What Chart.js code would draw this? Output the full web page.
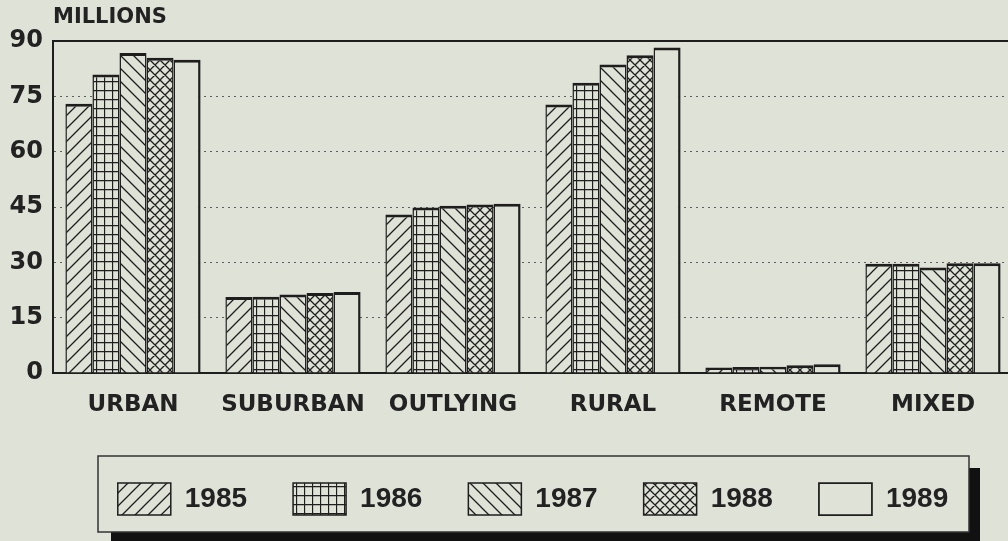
<!DOCTYPE html>
<html>
<head>
<meta charset="utf-8">
<script src="https://cdn.jsdelivr.net/npm/chart.js@4.4.0/dist/chart.umd.min.js"></script>
<style>
    html, body { margin: 0; padding: 0; background: #dfe2d7; overflow: hidden; }
    #wrap { position: relative; width: 1014px; height: 541px; }
</style>
</head>
<body>
<div id="wrap"><canvas id="chart"></canvas></div>
<script>
// ===== DATA =====
const categories = ['URBAN', 'SUBURBAN', 'OUTLYING', 'RURAL', 'REMOTE', 'MIXED'];
const years = ['1985', '1986', '1987', '1988', '1989'];
const values1985 = [73.0, 20.6, 43.0, 72.8, 1.5, 29.6];
const values1986 = [81.0, 20.7, 44.9, 78.7, 1.6, 29.6];
const values1987 = [86.8, 21.3, 45.4, 83.7, 1.7, 28.6];
const values1988 = [85.5, 21.7, 45.7, 86.2, 2.1, 29.8];
const values1989 = [85.0, 22.0, 45.9, 88.3, 2.4, 29.8];
const yTicks = [0, 15, 30, 45, 60, 75, 90];

const BG = '#dfe2d7';
const INK = '#1e1e1e';

// hatch fills like the old plotter patterns
function makePattern(kind) {
    const w = kind === 'grid' ? 8 : (kind === 'cross' ? 10 : 13);
    const h = kind === 'grid' ? 9 : w;
    const c = document.createElement('canvas');
    c.width = w; c.height = h;
    const g = c.getContext('2d');
    g.fillStyle = BG;
    g.fillRect(0, 0, w, h);
    g.strokeStyle = INK;
    g.lineWidth = 1.3;
    g.beginPath();
    if (kind === 'fwd' || kind === 'cross') {
        g.moveTo(-2, h + 2); g.lineTo(w + 2, -2);
        g.moveTo(-2, 2); g.lineTo(2, -2);
        g.moveTo(w - 2, h + 2); g.lineTo(w + 2, h - 2);
    }
    if (kind === 'back' || kind === 'cross') {
        g.moveTo(-2, -2); g.lineTo(w + 2, h + 2);
        g.moveTo(w - 2, -2); g.lineTo(w + 2, 2);
        g.moveTo(-2, h - 2); g.lineTo(2, h + 2);
    }
    if (kind === 'grid') {
        g.moveTo(0.5, 0); g.lineTo(0.5, h);
        g.moveTo(0, 0.5); g.lineTo(w, 0.5);
    }
    g.stroke();
    if (kind === 'plain') return BG;
    return g.createPattern(c, 'repeat');
}

const seriesValues = [values1985, values1986, values1987, values1988, values1989];
const fills = ['fwd', 'grid', 'back', 'cross', 'plain'].map(makePattern);

const datasets = years.map((yr, i) => ({
    label: yr,
    data: seriesValues[i],
    backgroundColor: fills[i],
    borderColor: INK,
    borderWidth: { top: 3, left: 1.5, right: i === 4 ? 2.5 : 1.5, bottom: 0 },
    borderSkipped: 'start',
    xAxisID: 'x',
    yAxisID: 'y'
}));

// legend frame with the heavy drop shadow
const legendFrame = {
    id: 'legendFrame',
    beforeDraw(chart) {
        const ctx = chart.ctx;
        ctx.save();
        ctx.fillStyle = '#111';
        ctx.fillRect(111, 532, 869, 9);
        ctx.fillRect(969, 468, 11, 73);
        ctx.fillStyle = BG;
        ctx.fillRect(98, 456, 871, 76);
        ctx.strokeStyle = '#333';
        ctx.lineWidth = 1.5;
        ctx.strokeRect(98, 456, 871, 76);
        ctx.restore();
    }
};

const tickFont = { family: "'DejaVu Sans', Verdana, sans-serif", size: 24, weight: 'bold' };

new Chart(document.getElementById('chart'), {
    type: 'bar',
    data: { labels: categories, datasets: datasets },
    options: {
        responsive: true,
        maintainAspectRatio: false,
        animation: false,
        layout: { padding: { left: 0, right: 1, top: 0, bottom: 16 } },
        datasets: { bar: { categoryPercentage: 0.845, barPercentage: 1.0 } },
        scales: {
            x: {
                position: 'bottom',
                grid: { display: false, drawTicks: false },
                border: { display: true, color: INK, width: 2 },
                ticks: { color: '#222', font: { family: "'DejaVu Sans', Verdana, sans-serif", size: 23, weight: 'bold' }, padding: 18, maxRotation: 0, autoSkip: false },
                afterFit(scale) { scale.height = 64; }
            },
            xTop: {
                type: 'category',
                position: 'top',
                grid: { display: false, drawTicks: false },
                border: { display: true, color: INK, width: 2 },
                ticks: { display: false },
                afterFit(scale) { scale.height = 0; }
            },
            y: {
                min: 0,
                max: 90,
                afterBuildTicks(scale) { scale.ticks = yTicks.map(v => ({ value: v })); },
                grid: {
                    drawTicks: false,
                    lineWidth: 1,
                    color: c => (c.tick && (c.tick.value === 0 || c.tick.value === 90)) ? 'rgba(0,0,0,0)' : '#5e5e5e'
                },
                border: { display: true, color: INK, width: 2, dash: [2, 4] },
                ticks: { color: '#222', font: tickFont, padding: 10 },
                afterFit(scale) { scale.width = 53; }
            }
        },
        plugins: {
            title: {
                display: true,
                text: 'MILLIONS',
                align: 'start',
                fullSize: false,
                color: '#222',
                font: { family: "'DejaVu Sans', Verdana, sans-serif", size: 21, weight: 'bold' },
                padding: { top: 5, bottom: 11 }
            },
            legend: {
                position: 'bottom',
                fullSize: false,
                labels: {
                    boxWidth: 53,
                    boxHeight: 32,
                    padding: 46,
                    color: '#222',
                    font: { family: "'Liberation Sans Narrow', 'Liberation Sans', Arial, sans-serif", size: 28, weight: 'bold' }
                }
            },
            tooltip: { enabled: false }
        }
    },
    plugins: [legendFrame]
});
</script>
</body>
</html>
